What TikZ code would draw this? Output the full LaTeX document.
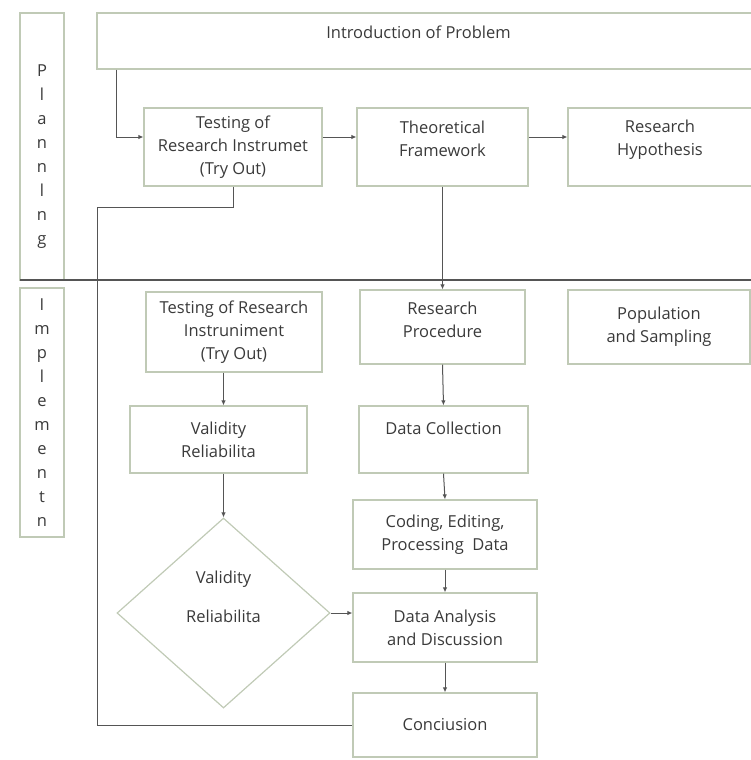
\documentclass[tikz,border=0pt]{standalone}
\usepackage{fontspec}
\setmainfont{Open Sans}
\usetikzlibrary{shapes.geometric,arrows.meta}
\definecolor{rand}{RGB}{192,202,182}
\definecolor{linie}{RGB}{85,85,85}
\definecolor{schrift}{RGB}{58,58,58}
\begin{document}
\begin{tikzpicture}[x=1pt,y=-1pt,
    box/.style={draw=rand, line width=1.2pt, text=schrift, align=center, inner sep=0pt,
      font=\fontsize{16.5}{23}\selectfont},
    raute/.style={diamond, draw=rand, line width=1.2pt, text=schrift, align=center, inner sep=0pt,
      font=\fontsize{16.5}{23}\selectfont},
    spalte/.style={box, minimum width=44pt, font=\fontsize{16.5}{24}\selectfont},
    pfeil/.style={-{Latex[length=5pt,width=4.5pt]}, linie, line width=1pt}]

\useasboundingbox (0,0) rectangle (751,760);

% side columns
\node [spalte, minimum height=267pt] (PL) at (42,146.5) {\mbox{}\\[8pt]P\\l\\a\\n\\n\\l\\n\\g};
\node [spalte, minimum height=249pt] (IM) at (42,412.5) {I\\m\\p\\l\\e\\m\\e\\n\\t\\n};
\draw [linie, line width=1.3pt] (20,280) -- (751,280);

% planning
\node [box, minimum width=663pt, minimum height=56pt, text height=12pt, text depth=16pt] (I) at (428.5,41) {Introduction of Problem\hspace*{20pt}};
\node [box, minimum width=178pt, minimum height=78pt] (T1) at (233,147) {Testing of\\Research Instrumet\\(Try Out)};
\node [box, minimum width=171pt, minimum height=78pt] (TF) at (442.5,147) {Theoretical\\Framework\\[-7pt]\mbox{}};
\node [box, minimum width=184pt, minimum height=78pt] (RH) at (660,147) {Research\\Hypothesis\\[-4pt]\mbox{}};

% implementation
\node [box, minimum width=176pt, minimum height=80pt] (T2) at (234,332) {Testing of Research\\Instruniment\\(Try Out)};
\node [box, minimum width=165pt, minimum height=74pt] (RP) at (442.5,327) {Research\\Procedure\\[-8pt]\mbox{}};
\node [box, minimum width=182pt, minimum height=74pt] (PS) at (659,327) {Population\\and Sampling};
\node [box, minimum width=177pt, minimum height=67pt] (VR) at (218.5,439.5) {Validity\\Reliabilita};
\node [box, minimum width=169pt, minimum height=67pt, text height=12pt, text depth=22pt] (DC) at (443.5,439.5) {Data Collection};
\node [raute, minimum width=213pt, minimum height=190pt] (DI) at (223.5,613) {Validity\\[16pt]Reliabilita\\[9pt]\mbox{}};
\node [box, minimum width=184pt, minimum height=69pt] (CE) at (445,534.5) {Coding, Editing,\\Processing\ \ Data};
\node [box, minimum width=184pt, minimum height=69pt] (DA) at (445,627.5) {Data Analysis\\and Discussion};
\node [box, minimum width=184pt, minimum height=64pt] (CO) at (445,725) {Conciusion};

% connectors
\coordinate (K) at (97,207);
\draw [pfeil] ([xshift=20pt]I.south west) |- ([yshift=10pt]T1.west);
\draw [pfeil] ([yshift=10pt]T1.east) -- ([yshift=10pt]TF.west);
\draw [pfeil] ([yshift=10pt]TF.east) -- ([yshift=10pt]RH.west);
\draw [linie, line width=1pt] (T1.south) |- (K) |- (CO.west);
\draw [pfeil] (TF.south) -- (RP.north);
\draw [pfeil] (T2.south -| DI) -- (VR.north -| DI);
\draw [pfeil] (VR.south -| DI) -- (DI.north);
\draw [pfeil] (RP.south) -- (DC.north);
\draw [pfeil] (DC.south) -- (CE.north);
\draw [pfeil] (CE.south) -- (DA.north);
\draw [pfeil] (DA.south) -- (CO.north);
\draw [pfeil] (DI.east) -- (DI.east -| DA.west);
\end{tikzpicture}
\end{document}
